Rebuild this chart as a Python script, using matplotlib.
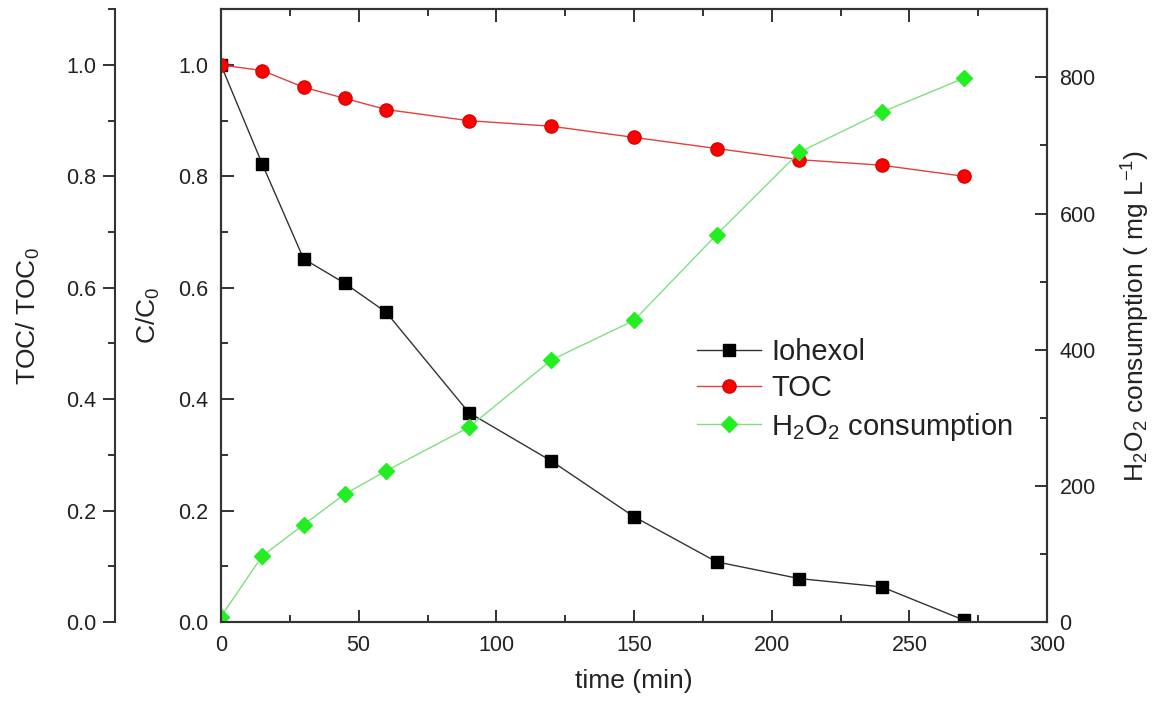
import matplotlib.pyplot as plt
from matplotlib.ticker import MultipleLocator

plt.rcParams['font.family'] = ['Liberation Sans', 'DejaVu Sans']
plt.rcParams['mathtext.default'] = 'regular'

# sampling times (min)
time_min = [0, 15, 30, 45, 60, 90, 120, 150, 180, 210, 240, 270]

# normalised concentrations
iohexol = [1.0, 0.822, 0.652, 0.608, 0.556, 0.376, 0.289, 0.189, 0.108, 0.078, 0.063, 0.003]
toc = [1.0, 0.99, 0.96, 0.94, 0.92, 0.90, 0.89, 0.87, 0.85, 0.83, 0.82, 0.80]

# H2O2 consumed (mg/L)
h2o2 = [8, 97, 143, 188, 222, 286, 385, 443, 569, 690, 749, 799]

text_color = '#222222'
tick_fs = 15.5
label_fs = 19

fig = plt.figure(figsize=(11.57, 7.13), dpi=100)
ax = fig.add_axes([0.191, 0.1276, 0.714, 0.8594])

ax.plot(time_min, iohexol, color='#333333', lw=1.0, marker='s', ms=8.5,
        mfc='black', mec='black', label='Iohexol', zorder=3)
ax.plot(time_min, toc, color='#e04040', lw=1.0, marker='o', ms=9.5,
        mfc='#ff0000', mec='#e00000', label='TOC', zorder=3)

ax.set_xlim(0, 300)
ax.set_ylim(0, 1.1)
ax.xaxis.set_major_locator(MultipleLocator(50))
ax.xaxis.set_minor_locator(MultipleLocator(25))
ax.yaxis.set_major_locator(MultipleLocator(0.2))
ax.yaxis.set_minor_locator(MultipleLocator(0.1))
ax.yaxis.set_major_formatter(plt.FormatStrFormatter('%.1f'))
ax.tick_params(which='both', direction='in', top=True, right=False,
               colors=text_color, labelsize=tick_fs, pad=9, width=1.3)
ax.tick_params(which='major', length=9)
ax.tick_params(which='minor', length=5)
ax.set_xlabel('time (min)', fontsize=label_fs, color=text_color, labelpad=10)
ax.set_ylabel('C/C$_0$', fontsize=label_fs, color=text_color, labelpad=12)
for sp in ax.spines.values():
    sp.set_linewidth(1.5)
    sp.set_color('#333333')

# H2O2 consumption on the right
ax2 = ax.twinx()
ax2.plot(time_min, h2o2, color='#80e080', lw=1.0, marker='D', ms=8.5,
         mfc='#22ee22', mec='#22ee22', label='H$_2$O$_2$ consumption')
ax2.set_ylim(0, 900)
ax2.yaxis.set_major_locator(MultipleLocator(200))
ax2.yaxis.set_minor_locator(MultipleLocator(100))
ax2.tick_params(which='both', direction='in', colors=text_color,
                labelsize=tick_fs, pad=9, width=1.3)
ax2.tick_params(which='major', length=9)
ax2.tick_params(which='minor', length=5)
ax2.set_ylabel('H$_2$O$_2$ consumption ( mg L$^{-1}$)', fontsize=label_fs,
               color=text_color, labelpad=17)
for sp in ax2.spines.values():
    sp.set_linewidth(1.5)
    sp.set_color('#333333')

# extra TOC/TOC0 scale further out on the left
ax3 = ax.twinx()
ax3.set_ylim(0, 1.1)
ax3.spines['left'].set_position(('outward', 76))
ax3.spines['left'].set_visible(True)
ax3.spines['left'].set_linewidth(1.5)
ax3.spines['left'].set_color('#333333')
for name in ['right', 'top', 'bottom']:
    ax3.spines[name].set_visible(False)
ax3.yaxis.set_ticks_position('left')
ax3.yaxis.set_label_position('left')
ax3.yaxis.set_major_locator(MultipleLocator(0.2))
ax3.yaxis.set_minor_locator(MultipleLocator(0.1))
ax3.yaxis.set_major_formatter(plt.FormatStrFormatter('%.1f'))
ax3.tick_params(which='both', direction='out', colors=text_color,
                labelsize=tick_fs, pad=5, width=1.3)
ax3.tick_params(which='major', length=9)
ax3.tick_params(which='minor', length=5)
ax3.set_ylabel('TOC/ TOC$_0$', fontsize=label_fs, color=text_color, labelpad=17)

h1, l1 = ax.get_legend_handles_labels()
h2, l2 = ax2.get_legend_handles_labels()
leg = ax2.legend(h1 + h2, l1 + l2, loc='upper left',
                 bbox_to_anchor=(0.576, 0.463), frameon=False,
                 fontsize=21, handlelength=2.2, labelspacing=0.28,
                 handletextpad=0.35, borderpad=0, borderaxespad=0)
for t in leg.get_texts():
    t.set_color(text_color)

fig.savefig('out.png', dpi=100)
